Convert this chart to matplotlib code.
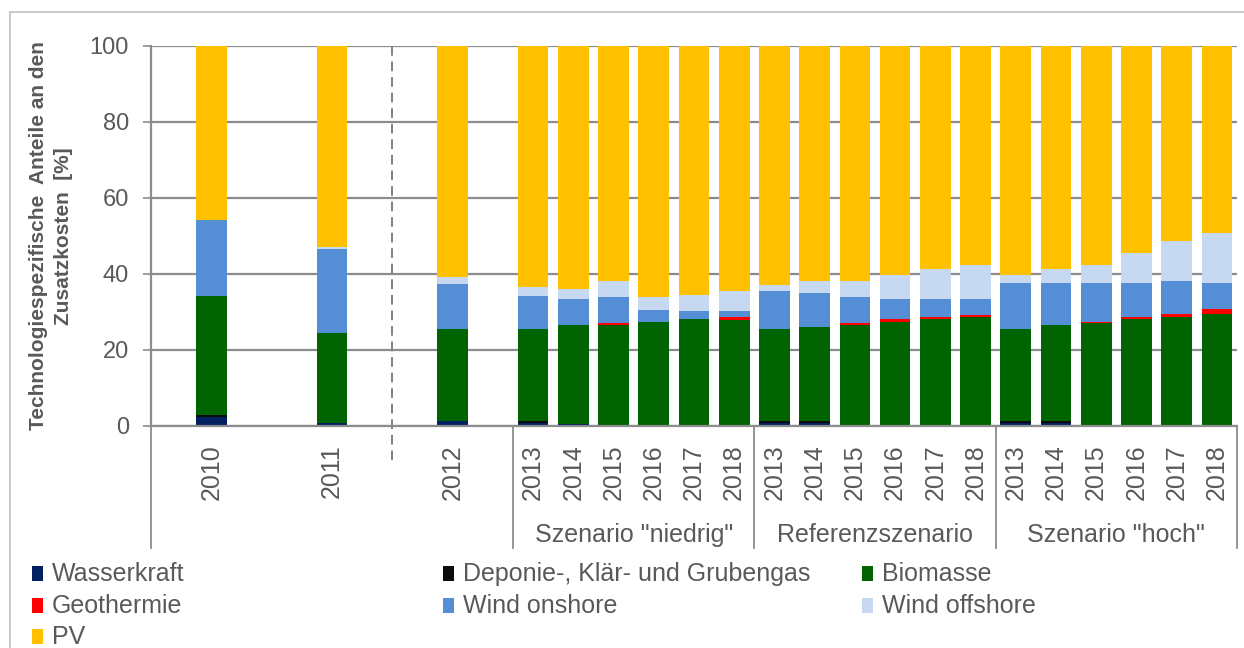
import numpy as np
import matplotlib
matplotlib.use("Agg")
import matplotlib.pyplot as plt
from matplotlib.patches import Rectangle
from matplotlib.lines import Line2D
import matplotlib.transforms as mtransforms

plt.rcParams['font.family'] = ['Liberation Sans', 'DejaVu Sans']

# ---------------- data ----------------
categories = ["", "2010", "", "", "2011", "", "", "2012", "",
              "2013", "2014", "2015", "2016", "2017", "2018",
              "2013", "2014", "2015", "2016", "2017", "2018",
              "2013", "2014", "2015", "2016", "2017", "2018"]
group_labels = ['Szenario "niedrig"', 'Referenzszenario', 'Szenario "hoch"']
group_size = 6

series_names = ["Wasserkraft", "Deponie-, Klär- und Grubengas", "Biomasse",
                "Geothermie", "Wind onshore", "Wind offshore", "PV"]

wasserkraft = [2.4, 0.9, 1.3,
               0.9, 0.6, 0.0, 0.0, 0.0, 0.0,
               0.9, 0.9, 0.0, 0.0, 0.0, 0.0,
               0.9, 0.9, 0.0, 0.0, 0.0, 0.0]
deponie = [0.5, 0.0, 0.1,
           0.4, 0.0, 0.0, 0.0, 0.0, 0.0,
           0.4, 0.4, 0.0, 0.0, 0.0, 0.0,
           0.4, 0.4, 0.0, 0.0, 0.0, 0.0]
biomasse = [31.4, 23.5, 24.0,
            24.1, 25.9, 26.5, 27.5, 28.1, 28.0,
            24.1, 24.7, 26.5, 27.5, 28.1, 28.6,
            24.1, 25.2, 27.0, 28.1, 28.6, 29.5]
geothermie = [0.0, 0.0, 0.0,
              0.0, 0.0, 0.5, 0.0, 0.0, 0.6,
              0.0, 0.0, 0.5, 0.6, 0.5, 0.5,
              0.0, 0.0, 0.5, 0.5, 1.0, 1.2]
wind_onshore = [19.9, 22.1, 12.1,
                8.9, 6.8, 6.9, 3.1, 2.1, 1.6,
                10.1, 8.9, 6.9, 5.2, 4.7, 4.2,
                12.2, 11.1, 10.1, 9.0, 8.6, 6.9]
wind_offshore = [0.0, 0.6, 1.6,
                 2.3, 2.8, 4.3, 3.3, 4.3, 5.3,
                 1.6, 3.3, 4.3, 6.4, 8.0, 9.1,
                 2.1, 3.7, 4.8, 7.9, 10.5, 13.2]
pv = [45.8, 52.9, 60.9,
      63.4, 63.9, 61.8, 66.1, 65.5, 64.5,
      62.9, 61.8, 61.8, 60.3, 58.7, 57.6,
      60.3, 58.7, 57.6, 54.5, 51.3, 49.2]

colors = ["#002060", "#0d0d0d", "#006400", "#ff0000", "#558ed5", "#c6d9f1", "#ffc000"]
yticks = [0, 20, 40, 60, 80, 100]

# ---------------- figure ----------------
W, H = 1244, 648
fig = plt.figure(figsize=(W / 100, H / 100), dpi=100)

def fx(px):
    return px / W

def fy(py):
    return 1 - py / H

ax_left, ax_right, ax_top, ax_bot = 151, 1237, 46, 426
ax = fig.add_axes([fx(ax_left), fy(ax_bot), (ax_right - ax_left) / W, (ax_bot - ax_top) / H])

grey = "#8c8c8c"
txt = "#595959"

xs = np.array([i for i, c in enumerate(categories) if c])
labels = [c for c in categories if c]

all_series = [wasserkraft, deponie, biomasse, geothermie, wind_onshore, wind_offshore, pv]
bottom = np.zeros(len(xs))
for vals, col in zip(all_series, colors):
    v = np.array(vals, dtype=float)
    ax.bar(xs, v, 0.76, bottom=bottom, color=col, linewidth=0, zorder=2)
    bottom += v

ax.set_xlim(-0.5, len(categories) - 0.5)
ax.set_ylim(0, 100)
ax.set_yticks(yticks)
ax.set_yticklabels([str(t) for t in yticks])
ax.yaxis.grid(True, color=grey, lw=1.6)
ax.set_axisbelow(True)
for s in ["top", "right"]:
    ax.spines[s].set_visible(False)
for s in ["left", "bottom"]:
    ax.spines[s].set_color(grey)
    ax.spines[s].set_linewidth(1.6)
    ax.spines[s].set_zorder(3)

ax.tick_params(axis="y", direction="out", length=6, width=1.2, color=grey,
               labelsize=17, labelcolor=txt, pad=10)
ax.set_xticks(xs)
ax.set_xticklabels(labels, rotation=90)
ax.tick_params(axis="x", length=0, labelsize=18, labelcolor=txt, pad=13)

trans = mtransforms.blended_transform_factory(ax.transData, ax.transAxes)
sep_bottom = (ax_bot - 548) / (ax_bot - ax_top)

# group separators and labels
first_group_slot = xs[-len(group_labels) * group_size]
seps = [-0.5] + [first_group_slot - 0.5 + k * group_size for k in range(len(group_labels) + 1)]
for sx in seps:
    ax.plot([sx, sx], [0, sep_bottom], color=grey, lw=1.3, transform=trans, clip_on=False, zorder=3)
for k, gl in enumerate(group_labels):
    cx = first_group_slot - 0.5 + k * group_size + group_size / 2
    ax.text(cx, (ax_bot - 535) / (ax_bot - ax_top), gl, transform=trans, ha="center",
            va="center", fontsize=18, color=txt)

# dashed divider between 2011 and 2012
div_x = (xs[1] + xs[2]) / 2
ax.plot([div_x, div_x], [1.0, (ax_bot - 462) / (ax_bot - ax_top)], color="#808080", lw=1.4,
        linestyle=(0, (5, 3)), transform=trans, clip_on=False, zorder=3)

# y label
fig.text(fx(51), fy(236), "Technologiespezifische  Anteile an den\nZusatzkosten  [%]",
         rotation=90, ha="center", va="center", multialignment="center",
         fontsize=15, fontweight="bold", color=txt, linespacing=1.35)

# outer frame
fig.add_artist(Line2D([fx(10), 1.0], [fy(12), fy(12)], color="#c0c0c0", lw=1.2))
fig.add_artist(Line2D([fx(10), fx(10)], [fy(12), 0.0], color="#c0c0c0", lw=1.2))

# legend (row-major, 3 columns)
col_x = [32, 443, 862]
row_y = [574, 606, 637]
for i, (name, col) in enumerate(zip(series_names, colors)):
    r, c = divmod(i, 3)
    mx, my = col_x[c], row_y[r]
    fig.add_artist(Rectangle((fx(mx), fy(my + 7)), 11 / W, 15 / H, transform=fig.transFigure,
                             facecolor=col, edgecolor="none"))
    fig.text(fx(mx + 20), fy(my), name, ha="left", va="center", fontsize=18, color=txt)

fig.savefig("out.png", dpi=100)
